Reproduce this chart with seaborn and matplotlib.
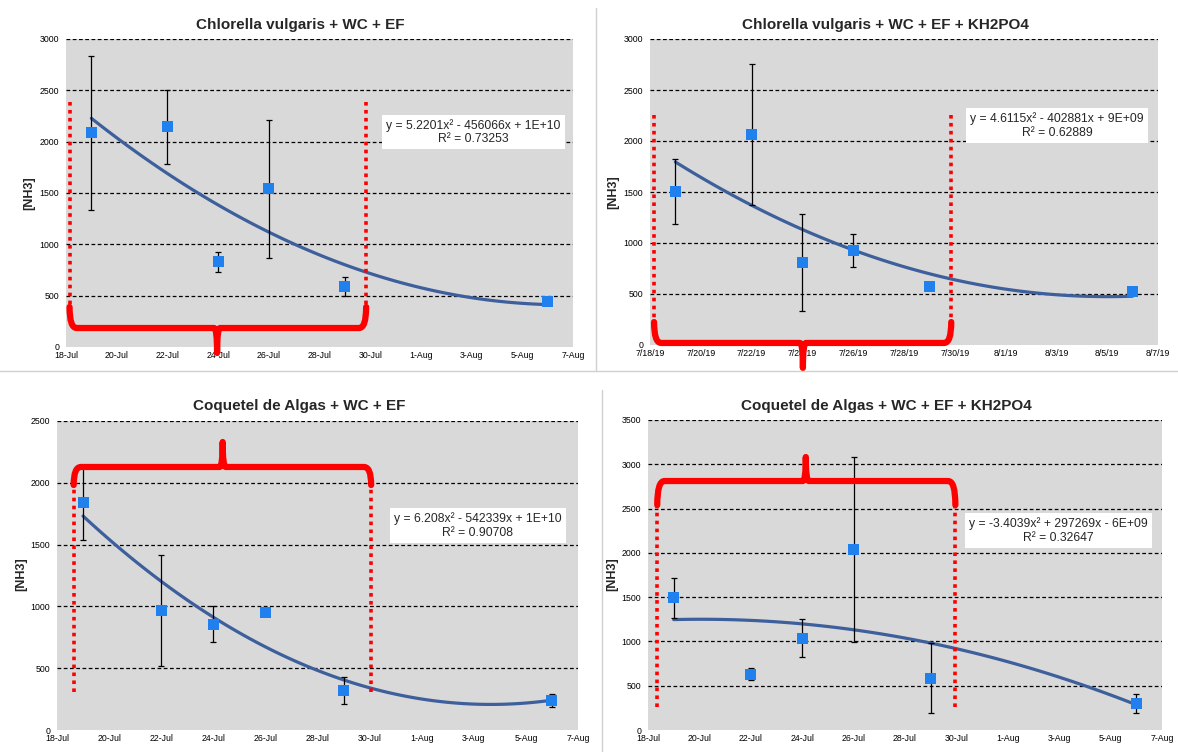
import numpy as np
import pandas as pd
import matplotlib
matplotlib.use("Agg")
import matplotlib.pyplot as plt
import matplotlib.dates as mdates
from matplotlib.path import Path
from matplotlib.patches import PathPatch
from matplotlib.lines import Line2D
import matplotlib.transforms as mtransforms
import seaborn as sns

sns.set_theme(style="white")
plt.rcParams['font.family'] = ['Liberation Sans', 'DejaVu Sans']

# ---------------- data ----------------
dates = ["2019-07-19", "2019-07-22", "2019-07-24", "2019-07-26", "2019-07-29", "2019-08-06"]

titles = ["Chlorella vulgaris + WC + EF",
          "Chlorella vulgaris + WC + EF + KH2PO4",
          "Coquetel de Algas + WC + EF",
          "Coquetel de Algas + WC + EF + KH2PO4"]

cv_ef_mean = [2085, 2145, 830, 1540, 590, 445]
cv_ef_err = [750, 362, 100, 670, 92, 0]

cv_kh_mean = [1508, 2062, 810, 928, 575, 523]
cv_kh_err = [320, 690, 478, 160, 40, 0]

ca_ef_mean = [1840, 964, 857, 948, 320, 237]
ca_ef_err = [300, 450, 148, 0, 112, 54]

ca_kh_mean = [1494, 630, 1035, 2036, 585, 300]
ca_kh_err = [225, 66, 215, 1043, 398, 109]

equations = ["y = 5.2201x\u00b2 - 456066x + 1E+10\nR\u00b2 = 0.73253",
             "y = 4.6115x\u00b2 - 402881x + 9E+09\nR\u00b2 = 0.62889",
             "y = 6.208x\u00b2 - 542339x + 1E+10\nR\u00b2 = 0.90708",
             "y = -3.4039x\u00b2 + 297269x - 6E+09\nR\u00b2 = 0.32647"]

y_max = [3000, 3000, 2500, 3500]
date_fmt = ["%-d-%b", "%-m/%-d/%y", "%-d-%b", "%-d-%b"]

means = [cv_ef_mean, cv_kh_mean, ca_ef_mean, ca_kh_mean]
errs = [cv_ef_err, cv_kh_err, ca_ef_err, ca_kh_err]

# ---------------- layout (pixels) ----------------
W, H = 1178, 752
fig = plt.figure(figsize=(W / 100, H / 100), dpi=100)
fig.patch.set_facecolor("white")

def fx(x):
    return x / W

def fy(y):
    return 1 - y / H

# axes boxes: left, top, right, bottom (pixels)
boxes = [(66, 39, 573, 347), (650, 39, 1158, 345), (57, 421, 578, 730), (648, 420, 1162, 730)]
title_pos = [(300, 25), (885, 25), (299, 406), (886, 406)]
ylab_pos = [(29, 193), (613, 192), (21, 574), (612, 574)]
eq_pos = [(0.803, 0.698), (0.801, 0.717), (0.808, 0.662), (0.799, 0.6435)]

# bracket annotation: x0, x1, xc (axes frac), y_dot_top, y_end, y_bar, y_tip (data)
brackets = [
    (0.007, 0.592, 0.298, 2386, 390, 185, -58),
    (0.008, 0.593, 0.301, 2255, 225, 20, -225),
    (0.032, 0.603, 0.318, 307, 1982, 2128, 2330),
    (0.018, 0.598, 0.307, 260, 2540, 2811, 3082),
]

marker_color = "#1F80EE"
line_color = "#3D5F9C"
red = "#FF0000"

xlim = (mdates.date2num(pd.Timestamp("2019-07-18")), mdates.date2num(pd.Timestamp("2019-08-07")))
xticks = [mdates.date2num(d) for d in pd.date_range("2019-07-18", "2019-08-07", freq="2D")]

for i in range(4):
    l, t, r, b = boxes[i]
    ax = fig.add_axes([fx(l), fy(b), (r - l) / W, (b - t) / H])
    ax.set_facecolor("#D9D9D9")
    df = pd.DataFrame({"x": mdates.date2num(pd.to_datetime(dates)),
                       "y": means[i], "e": errs[i]})

    sns.regplot(data=df, x="x", y="y", order=2, ci=None, scatter=False, ax=ax,
                truncate=True, line_kws=dict(color=line_color, lw=2.3, zorder=3))
    ax.errorbar(df["x"], df["y"], yerr=df["e"], fmt="none", ecolor="black",
                elinewidth=0.9, capsize=2.5, capthick=0.9, zorder=4)
    sns.scatterplot(data=df, x="x", y="y", marker="s", s=62, color=marker_color,
                    edgecolor="none", ax=ax, zorder=5)

    ax.set_xlim(*xlim)
    ax.set_ylim(0, y_max[i])
    ax.set_xticks(xticks)
    ax.xaxis.set_major_formatter(mdates.DateFormatter(date_fmt[i]))
    ax.set_yticks(np.arange(0, y_max[i] + 1, 500))
    ax.tick_params(axis="both", length=0, labelsize=6.3, colors="black")
    ax.tick_params(axis="y", pad=5)
    ax.tick_params(axis="x", pad=3)
    ax.set_xlabel("")
    ax.set_ylabel("")
    for s in ax.spines.values():
        s.set_visible(False)
    ax.yaxis.grid(True, color="black", linestyle=(0, (3, 2)), lw=0.9)
    ax.xaxis.grid(False)
    ax.set_axisbelow(True)
    ax.get_ygridlines()[0].set_visible(False)

    # equation box
    ax.text(eq_pos[i][0], eq_pos[i][1], equations[i], transform=ax.transAxes,
            ha="center", va="center", fontsize=8.7, linespacing=1.15, zorder=6,
            bbox=dict(boxstyle="square,pad=0.35", fc="white", ec="none"))

    # red bracket annotation
    x0, x1, xc, ydt, ye, yb, ytip = brackets[i]
    tr = mtransforms.blended_transform_factory(ax.transAxes, ax.transData)
    for xv in (x0, x1):
        ax.add_line(Line2D([xv, xv], [ydt, ye], transform=tr, color=red, lw=2.6,
                           linestyle=(0, (1, 1.2)), clip_on=False, zorder=7))
    dx = 0.014
    dxc = 0.006
    verts = [(x0, ye), (x0, yb), (x0 + dx, yb),
             (xc - dxc, yb),
             (xc, yb), (xc, ytip),
             (xc, yb), (xc + dxc, yb),
             (x1 - dx, yb),
             (x1, yb), (x1, ye)]
    codes = [Path.MOVETO, Path.CURVE3, Path.CURVE3,
             Path.LINETO,
             Path.CURVE3, Path.CURVE3,
             Path.CURVE3, Path.CURVE3,
             Path.LINETO,
             Path.CURVE3, Path.CURVE3]
    patch = PathPatch(Path(verts, codes), transform=tr, fc="none", ec=red, lw=4.5,
                      capstyle="round", joinstyle="round", clip_on=False, zorder=7)
    ax.add_patch(patch)

    fig.text(fx(title_pos[i][0]), fy(title_pos[i][1]), titles[i], ha="center", va="center",
             fontsize=11, fontweight="bold")
    fig.text(fx(ylab_pos[i][0]), fy(ylab_pos[i][1]), "[NH3]", ha="center", va="center",
             rotation=90, fontsize=9, fontweight="bold")

# separator lines between the pasted charts
sep = "#D0D0D0"
fig.add_artist(Line2D([fx(596), fx(596)], [fy(8), fy(371)], color=sep, lw=1))
fig.add_artist(Line2D([0, 1], [fy(371), fy(371)], color=sep, lw=1))
fig.add_artist(Line2D([fx(602), fx(602)], [fy(390), fy(752)], color=sep, lw=1))

fig.savefig("out.png", dpi=100, facecolor="white")
